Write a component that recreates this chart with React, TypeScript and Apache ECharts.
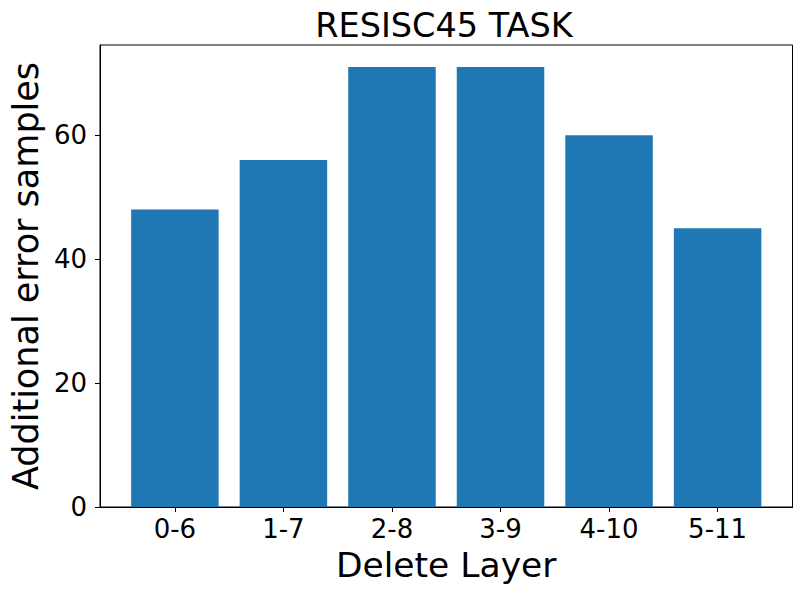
import React, { useEffect, useRef } from "react";
import * as echarts from "echarts";

const categories = ["0-6", "1-7", "2-8", "3-9", "4-10", "5-11"];
const errorSamples = [48, 56, 71, 71, 60, 45];
const yTicks = [0, 20, 40, 60];
const xPositions = [0, 1, 2, 3, 4, 5];
const titleText = "RESISC45 TASK";

const FONT = "DejaVu Sans";

export default function App() {
  const ref = useRef<HTMLDivElement>(null);
  useEffect(() => {
    if (!ref.current) return;
    const chart = echarts.init(ref.current, undefined, { renderer: "svg" });
    const maxVal = Math.max(...errorSamples);
    chart.setOption({
      animation: false,
      backgroundColor: "#ffffff",
      graphic: [
        {
          type: "text",
          x: 444,
          y: 25,
          style: {
            text: titleText,
            fontFamily: FONT,
            fontSize: 33.5,
            fill: "#000",
            align: "center",
            verticalAlign: "middle",
          },
        },
      ],
      grid: {
        left: 95.5,
        top: 45,
        width: 697,
        height: 462,
        show: true,
        borderColor: "#000",
        borderWidth: 1,
        backgroundColor: "transparent",
      },
      xAxis: {
        type: "value",
        min: -0.69,
        max: 5.69,
        splitLine: { show: false },
        axisLine: { show: true, onZero: false, lineStyle: { color: "#000", width: 1 } },
        axisTick: {
          show: true,
          customValues: xPositions,
          length: 5,
          lineStyle: { color: "#000", width: 1 },
        },
        axisLabel: {
          customValues: xPositions,
          formatter: (v: number) => categories[Math.round(v)] ?? "",
          fontFamily: FONT,
          fontSize: 26,
          color: "#000",
          margin: 9,
        },
        name: "Delete Layer",
        nameLocation: "middle",
        nameGap: 40,
        nameTextStyle: { fontFamily: FONT, fontSize: 34.5, color: "#000" },
      },
      yAxis: {
        type: "value",
        min: 0,
        max: maxVal * 1.05,
        splitLine: { show: false },
        axisLine: { show: true, onZero: false, lineStyle: { color: "#000", width: 1 } },
        axisTick: {
          show: true,
          customValues: yTicks,
          length: 5,
          lineStyle: { color: "#000", width: 1 },
        },
        axisLabel: {
          customValues: yTicks,
          fontFamily: FONT,
          fontSize: 26,
          color: "#000",
          margin: 13,
        },
        name: "Additional error samples",
        nameLocation: "middle",
        nameGap: 46,
        nameTextStyle: { fontFamily: FONT, fontSize: 35, color: "#000" },
      },
      series: [
        {
          type: "bar",
          data: errorSamples.map((v, i) => [xPositions[i], v]),
          barWidth: 87.5,
          itemStyle: { color: "#1f77b4" },
        },
      ],
    });
    return () => chart.dispose();
  }, []);
  return <div ref={ref} style={{ width: 802, height: 594, margin: -8 }} />;
}
